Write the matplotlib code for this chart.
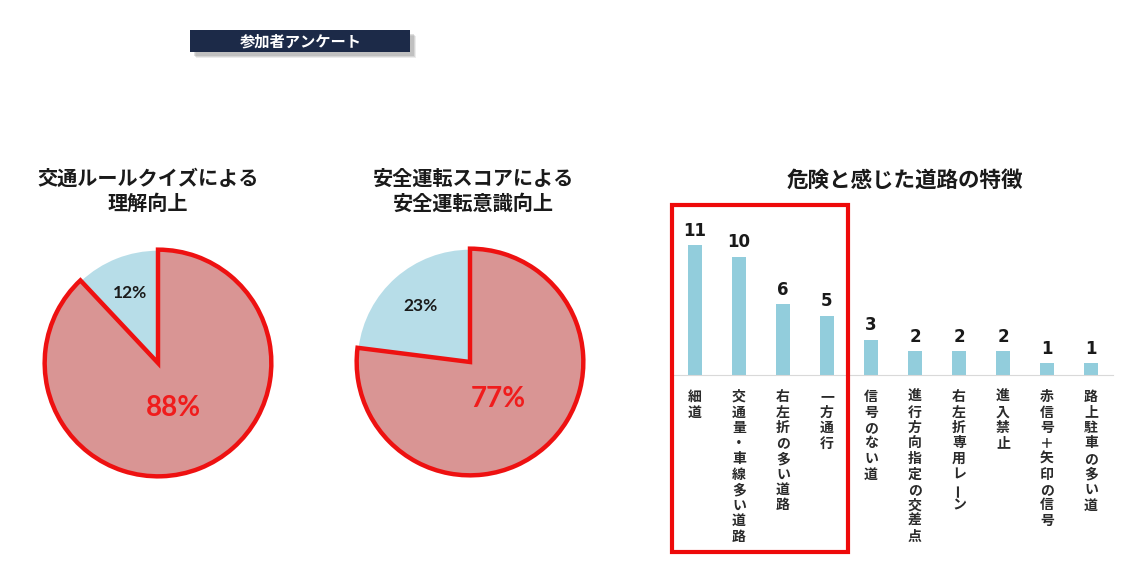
import matplotlib
matplotlib.use("Agg")
from matplotlib import pyplot as plt
from matplotlib.patches import Rectangle
from matplotlib.transforms import blended_transform_factory
import numpy as np

plt.rcParams['font.family'] = ['Noto Sans CJK JP', 'DejaVu Sans']

# data
badge_text = "参加者アンケート"
pie_titles = ["交通ルールクイズによる\n理解向上", "安全運転スコアによる\n安全運転意識向上"]
pie_values = [[12, 88], [23, 77]]
bar_title = "危険と感じた道路の特徴"
bar_labels = ["細道", "交通量・車線多い道路", "右左折の多い道路", "一方通行", "信号のない道",
              "進行方向指定の交差点", "右左折専用レーン", "進入禁止", "赤信号＋矢印の信号", "路上駐車の多い道"]
bar_values = [11, 10, 6, 5, 3, 2, 2, 2, 1, 1]

W, H = 1147, 580
fig = plt.figure(figsize=(W / 100, H / 100), dpi=100)


def fx(px):
    return px / W


def fy(py):
    return 1 - py / H


# badge with soft shadow
for off, a in [(6, 0.15), (5, 0.2), (4, 0.25)]:
    fig.patches.append(Rectangle((fx(190 + off), fy(52 + off)), fx(220), 22 / H,
                                 transform=fig.transFigure, facecolor='#808080',
                                 edgecolor='none', alpha=a))
fig.patches.append(Rectangle((fx(190), fy(52)), fx(220), 22 / H, transform=fig.transFigure,
                             facecolor='#1c2a48', edgecolor='none'))
fig.text(fx(301), fy(41.5), badge_text, color='white', fontsize=11, fontweight='bold',
         ha='center', va='center')

# pies
pie_centers = [(158, 363), (470, 362)]
radius = 119
title_x = [148, 473]
for i in range(2):
    cx, cy = pie_centers[i]
    ax = fig.add_axes([fx(cx - radius), fy(cy + radius), 2 * radius / W, 2 * radius / H])
    vals = pie_values[i]
    wedges, _ = ax.pie(vals, startangle=90, counterclock=True,
                       colors=['#b7dde8', '#d99594'], radius=1)
    wedges[0].set_edgecolor('white')
    wedges[0].set_linewidth(1.5)
    wedges[1].set_edgecolor('#ee1111')
    wedges[1].set_linewidth(3.2)
    wedges[1].set_zorder(3)
    ax.set_xlim(-1.05, 1.05)
    ax.set_ylim(-1.05, 1.05)
    ax.set_aspect('equal')
    ax.axis('off')
    # labels
    start = 90
    dists = [0.66, 0.38]
    for j, v in enumerate(vals):
        mid = np.deg2rad(start + v * 3.6 / 2)
        start += v * 3.6
        x, y = dists[j] * np.cos(mid), dists[j] * np.sin(mid)
        if j == 0:
            ax.text(x, y, f"{v}%", fontsize=12.5, fontweight='bold', color='#1a1a1a',
                    ha='center', va='center', family='Lato', zorder=5)
        else:
            ax.text(x, y - 0.04, f"{v}%", fontsize=20, fontweight='bold', color='#f01c1c',
                    ha='center', va='center', family='Lato', zorder=5)
    fig.text(fx(title_x[i]), fy(191), pie_titles[i], fontsize=14.5, fontweight='bold',
             ha='center', va='center', linespacing=1.25, color='#1a1a1a')

# bar chart
bar_left, bar_right = 673, 1113
base_y = 375
unit = 11.8
top_units = 14
axb = fig.add_axes([fx(bar_left), fy(base_y), (bar_right - bar_left) / W, top_units * unit / H])
x = np.arange(len(bar_values))
bars = axb.bar(x, bar_values, width=0.3, color='#92cddc')
axb.set_xlim(-0.5, len(bar_values) - 0.5)
axb.set_ylim(0, top_units)
for s in ['top', 'left', 'right']:
    axb.spines[s].set_visible(False)
axb.spines['bottom'].set_color('#d9d9d9')
axb.set_xticks([])
axb.set_yticks([])
for xi, v in zip(x, bar_values):
    axb.annotate(str(v), (xi, v), xytext=(0, 4), textcoords='offset points',
                 ha='center', va='bottom', fontsize=12, fontweight='bold',
                 family='DejaVu Sans', color='#1a1a1a')

# vertical tick labels, one character per line
tr = blended_transform_factory(axb.transData, fig.transFigure)
step = 15.5
for xi, lab in zip(x, bar_labels):
    for k, ch in enumerate(lab):
        rot = 90 if ch == 'ー' else 0
        axb.text(xi, fy(397 + k * step), ch, transform=tr, fontsize=10, fontweight='bold',
                 ha='center', va='center', color='#2a2a2a', rotation=rot, clip_on=False)

fig.text(fx(905), fy(180), bar_title, fontsize=15.5, fontweight='bold',
         ha='center', va='center', color='#1a1a1a')

# highlight box around first bars
fig.patches.append(Rectangle((fx(672), fy(552)), fx(848 - 672), (552 - 205) / H,
                             transform=fig.transFigure, facecolor='none',
                             edgecolor='#ee0a0a', linewidth=3))

fig.savefig("out.png", dpi=100, facecolor='white')
